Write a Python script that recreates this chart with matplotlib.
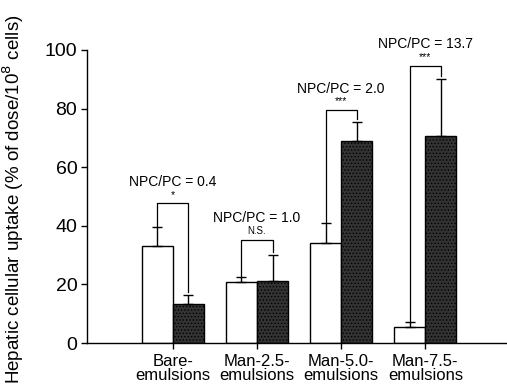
import matplotlib
matplotlib.use('Agg')
import matplotlib.pyplot as plt
import numpy as np

plt.rcParams['font.family'] = ['Liberation Sans', 'DejaVu Sans']
plt.rcParams['hatch.color'] = '#8a8a8a'
plt.rcParams['hatch.linewidth'] = 0.6

# uptake per cell type for each emulsion
categories = ['Bare-\nemulsions', 'Man-2.5-\nemulsions', 'Man-5.0-\nemulsions', 'Man-7.5-\nemulsions']
pc_mean = [33.1, 20.7, 34.0, 5.4]
pc_sd = [6.6, 1.9, 6.9, 1.7]
npc_mean = [13.2, 21.2, 68.9, 70.6]
npc_sd = [3.2, 8.8, 6.6, 19.5]

ratio_labels = ['NPC/PC = 0.4', 'NPC/PC = 1.0', 'NPC/PC = 2.0', 'NPC/PC = 13.7']
sig_labels = ['*', 'N.S.', '***', '***']
bracket_y = [47.7, 35.2, 79.5, 94.6]

fig = plt.figure(figsize=(5.07, 3.91), dpi=100)
ax = fig.add_axes([87 / 507, 48 / 391, 420 / 507, 293 / 391])

x = np.arange(1, len(categories) + 1)
w = 0.37

ax.bar(x - w / 2, pc_mean, w, color='white', edgecolor='black', linewidth=1.0, zorder=2)
ax.bar(x + w / 2, npc_mean, w, color='#333333', edgecolor='black', linewidth=1.0,
       hatch='.....', zorder=2)

# upper error bars only
ax.errorbar(x - w / 2, pc_mean, yerr=[np.zeros(len(x)), pc_sd], fmt='none',
            ecolor='black', elinewidth=1.0, capsize=3.5, capthick=1.0, zorder=3)
ax.errorbar(x + w / 2, npc_mean, yerr=[np.zeros(len(x)), npc_sd], fmt='none',
            ecolor='black', elinewidth=1.0, capsize=3.5, capthick=1.0, zorder=3)

# significance brackets
for i in range(len(x)):
    xl = x[i] - w / 2
    xr = x[i] + w / 2
    yl = pc_mean[i] + pc_sd[i]
    yr = npc_mean[i] + npc_sd[i] + 1
    yb = bracket_y[i]
    ax.plot([xl, xl, xr, xr], [yl, yb, yb, yr], color='black', lw=0.9,
            clip_on=False, zorder=3)
    ax.text(x[i], yb + 1.2, sig_labels[i], ha='center', va='bottom',
            fontsize=7.5 if sig_labels[i] != 'N.S.' else 7, clip_on=False)
    ax.text(x[i], yb + 7.3, ratio_labels[i], ha='center', va='center',
            fontsize=10, clip_on=False)

ax.set_xlim(-0.02, 4.97)
ax.set_ylim(0, 100)
ax.set_yticks([0, 20, 40, 60, 80, 100])
ax.set_xticks(x)
ax.set_xticklabels(categories, fontsize=12, linespacing=0.9)
ax.tick_params(axis='y', labelsize=14, length=4, width=1, pad=3)
ax.tick_params(axis='x', length=4, width=1, pad=4)

ax.spines['top'].set_visible(False)
ax.spines['right'].set_visible(False)
ax.spines['left'].set_linewidth(1.0)
ax.spines['bottom'].set_linewidth(1.0)

ax.set_ylabel('Hepatic cellular uptake (% of dose/10$^{8}$ cells)', fontsize=13.5)
ax.yaxis.set_label_coords(-0.145, 0.49)

fig.savefig('out.png', dpi=100)
